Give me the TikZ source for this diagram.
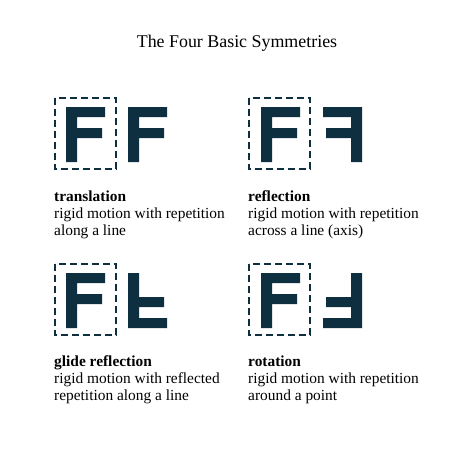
\documentclass[tikz,border=0pt]{standalone}
\usepackage{fontspec}
\setmainfont{Liberation Serif}
\usepackage{tikz}

\definecolor{glyph}{HTML}{0E2F3F}

\begin{document}
\begin{tikzpicture}[x=1pt,y=-1pt,
    frame/.style={draw=glyph,line width=2.4pt,dash pattern=on 7pt off 4pt},
    caption/.style={anchor=base west,align=left,inner sep=0pt,
                    font=\fontsize{15.4}{17}\selectfont},
    letterF/.pic={
      \fill[glyph] (0,0) -- (39,0) -- (39,10) -- (11,10) -- (11,21)
                   -- (36,21) -- (36,31) -- (11,31) -- (11,55) -- (0,55) -- cycle;
    }]

  \useasboundingbox (0,0) rectangle (448,458);

  \node[anchor=base,inner sep=0pt,font=\fontsize{17.9}{20}\selectfont]
       (title) at (237,47) {The Four Basic Symmetries};

  % translation
  \draw[frame] (55,98) rectangle (116,169);
  \pic at (66,107) {letterF};
  \pic at (128,107) {letterF};
  \node[caption] (trans) at (54,235)
       {\textbf{translation}\\rigid motion with repetition\\along a line};

  % reflection
  \draw[frame] (249,98) rectangle (310,169);
  \pic at (261,107) {letterF};
  \pic[xscale=-1] at (362,107) {letterF};
  \node[caption] (refl) at (248,235)
       {\textbf{reflection}\\rigid motion with repetition\\across a line (axis)};

  % glide reflection
  \draw[frame] (55,264) rectangle (116,335);
  \pic at (66,273) {letterF};
  \pic[yscale=-1] at (128,328) {letterF};
  \node[caption] (glide) at (54,400)
       {\textbf{glide reflection}\\rigid motion with reflected\\repetition along a line};

  % rotation
  \draw[frame] (249,264) rectangle (310,335);
  \pic at (261,273) {letterF};
  \pic[rotate=180] at (362,328) {letterF};
  \node[caption] (rot) at (248,400)
       {\textbf{rotation}\\rigid motion with repetition\\around a point};
\end{tikzpicture}
\end{document}
